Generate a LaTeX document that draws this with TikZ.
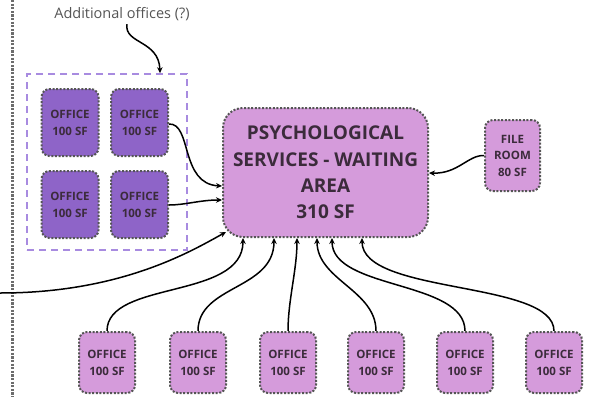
\documentclass[tikz,border=0pt]{standalone}
\usepackage{fontspec}
\setmainfont{Open Sans}
\usetikzlibrary{arrows.meta,calc}
\definecolor{darkoff}{HTML}{8E64C8}
\definecolor{lightoff}{HTML}{D59BDB}
\definecolor{bordergray}{HTML}{555555}
\definecolor{grpdash}{HTML}{A88BE0}
\definecolor{txtc}{HTML}{3B2B3B}
\definecolor{labgray}{HTML}{555555}
\tikzset{
  room/.style={draw=bordergray, line width=2pt, dash pattern=on 2pt off 1.6pt,
    rounded corners=8pt, text=txtc, align=center, inner sep=0pt,
    font=\bfseries\fontsize{11.5}{17}\selectfont},
  darkroom/.style={room, fill=darkoff, minimum width=57pt, minimum height=67pt},
  lightroom/.style={room, fill=lightoff, minimum width=56pt, minimum height=61pt},
  conn/.style={line width=1.5pt, -{Stealth[length=6pt,width=5.5pt]}},
}
\begin{document}
\begin{tikzpicture}[x=1pt,y=-1pt]
\useasboundingbox (0,0) rectangle (591,397);
% vertical dotted boundary
\draw[gray!85!black, line width=3pt, dash pattern=on 2.2pt off 1.4pt] (12,0) -- (12,397);
% label
\node[text=labgray, font=\fontsize{14.5}{16}\selectfont] (lab) at (122,14) {Additional offices (?)};
% group box
\node[draw=grpdash, line width=1.6pt, dash pattern=on 7pt off 5pt, minimum width=160pt, minimum height=176pt, inner sep=0pt] (grp) at (107,162) {};
% dark offices
\node[darkroom] (o1) at (70,122.5) {OFFICE\\100 SF};
\node[darkroom] (o2) at (139.5,122.5) {OFFICE\\100 SF};
\node[darkroom] (o3) at (70,204.5) {OFFICE\\100 SF};
\node[darkroom] (o4) at (139.5,204.5) {OFFICE\\100 SF};
% main
\node[room, fill=lightoff, rounded corners=20pt, minimum width=205pt, minimum height=129pt,
  font=\bfseries\fontsize{19}{26.3}\selectfont] (main) at (325.5,172.5)
  {PSYCHOLOGICAL\\SERVICES - WAITING\\AREA\\310 SF};
% file room
\node[lightroom, minimum width=55pt, minimum height=71pt, font=\bfseries\fontsize{11.5}{16.5}\selectfont] (file) at (512.5,155.5) {FILE\\ROOM\\80 SF};
% bottom offices
\node[lightroom] (b1) at (107,362.5) {OFFICE\\100 SF};
\node[lightroom] (b2) at (198,362.5) {OFFICE\\100 SF};
\node[lightroom] (b3) at (288,362.5) {OFFICE\\100 SF};
\node[lightroom] (b4) at (376,362.5) {OFFICE\\100 SF};
\node[lightroom] (b5) at (465,362.5) {OFFICE\\100 SF};
\node[lightroom] (b6) at (554,362.5) {OFFICE\\100 SF};
\coordinate (ext) at (0,293);
% connectors
\draw[conn] (lab.south -| 127,0) .. controls (124,44) and (159,40) .. (grp.north -| 160,0);
\draw[conn] (o2.east |- 0,124) .. controls (192,123) and (180,184) .. (main.west |- 0,186);
\draw[conn] (o4.east |- 0,205) .. controls (185,205) and (200,200) .. (main.west |- 0,200);
\draw[conn] (ext) .. controls (120,293) and (190,252) .. ($(main.south west)+(4,-6)$);
\draw[conn] (file.west) .. controls (468,155) and (458,174) .. (main.east |- 0,173);
\draw[conn] (b1.north) .. controls (107,280) and (243,300) .. (main.south -| 243,0);
\draw[conn] (b2.north) .. controls (198,285) and (274,290) .. (main.south -| 274,0);
\draw[conn] (b3.north) .. controls (288,300) and (297,270) .. (main.south -| 297,0);
\draw[conn] (b4.north) .. controls (376,290) and (317,280) .. (main.south -| 317,0);
\draw[conn] (b5.north) .. controls (465,280) and (332,290) .. (main.south -| 332,0);
\draw[conn] (b6.north) .. controls (554,280) and (362,295) .. (main.south -| 362,0);
\end{tikzpicture}
\end{document}
